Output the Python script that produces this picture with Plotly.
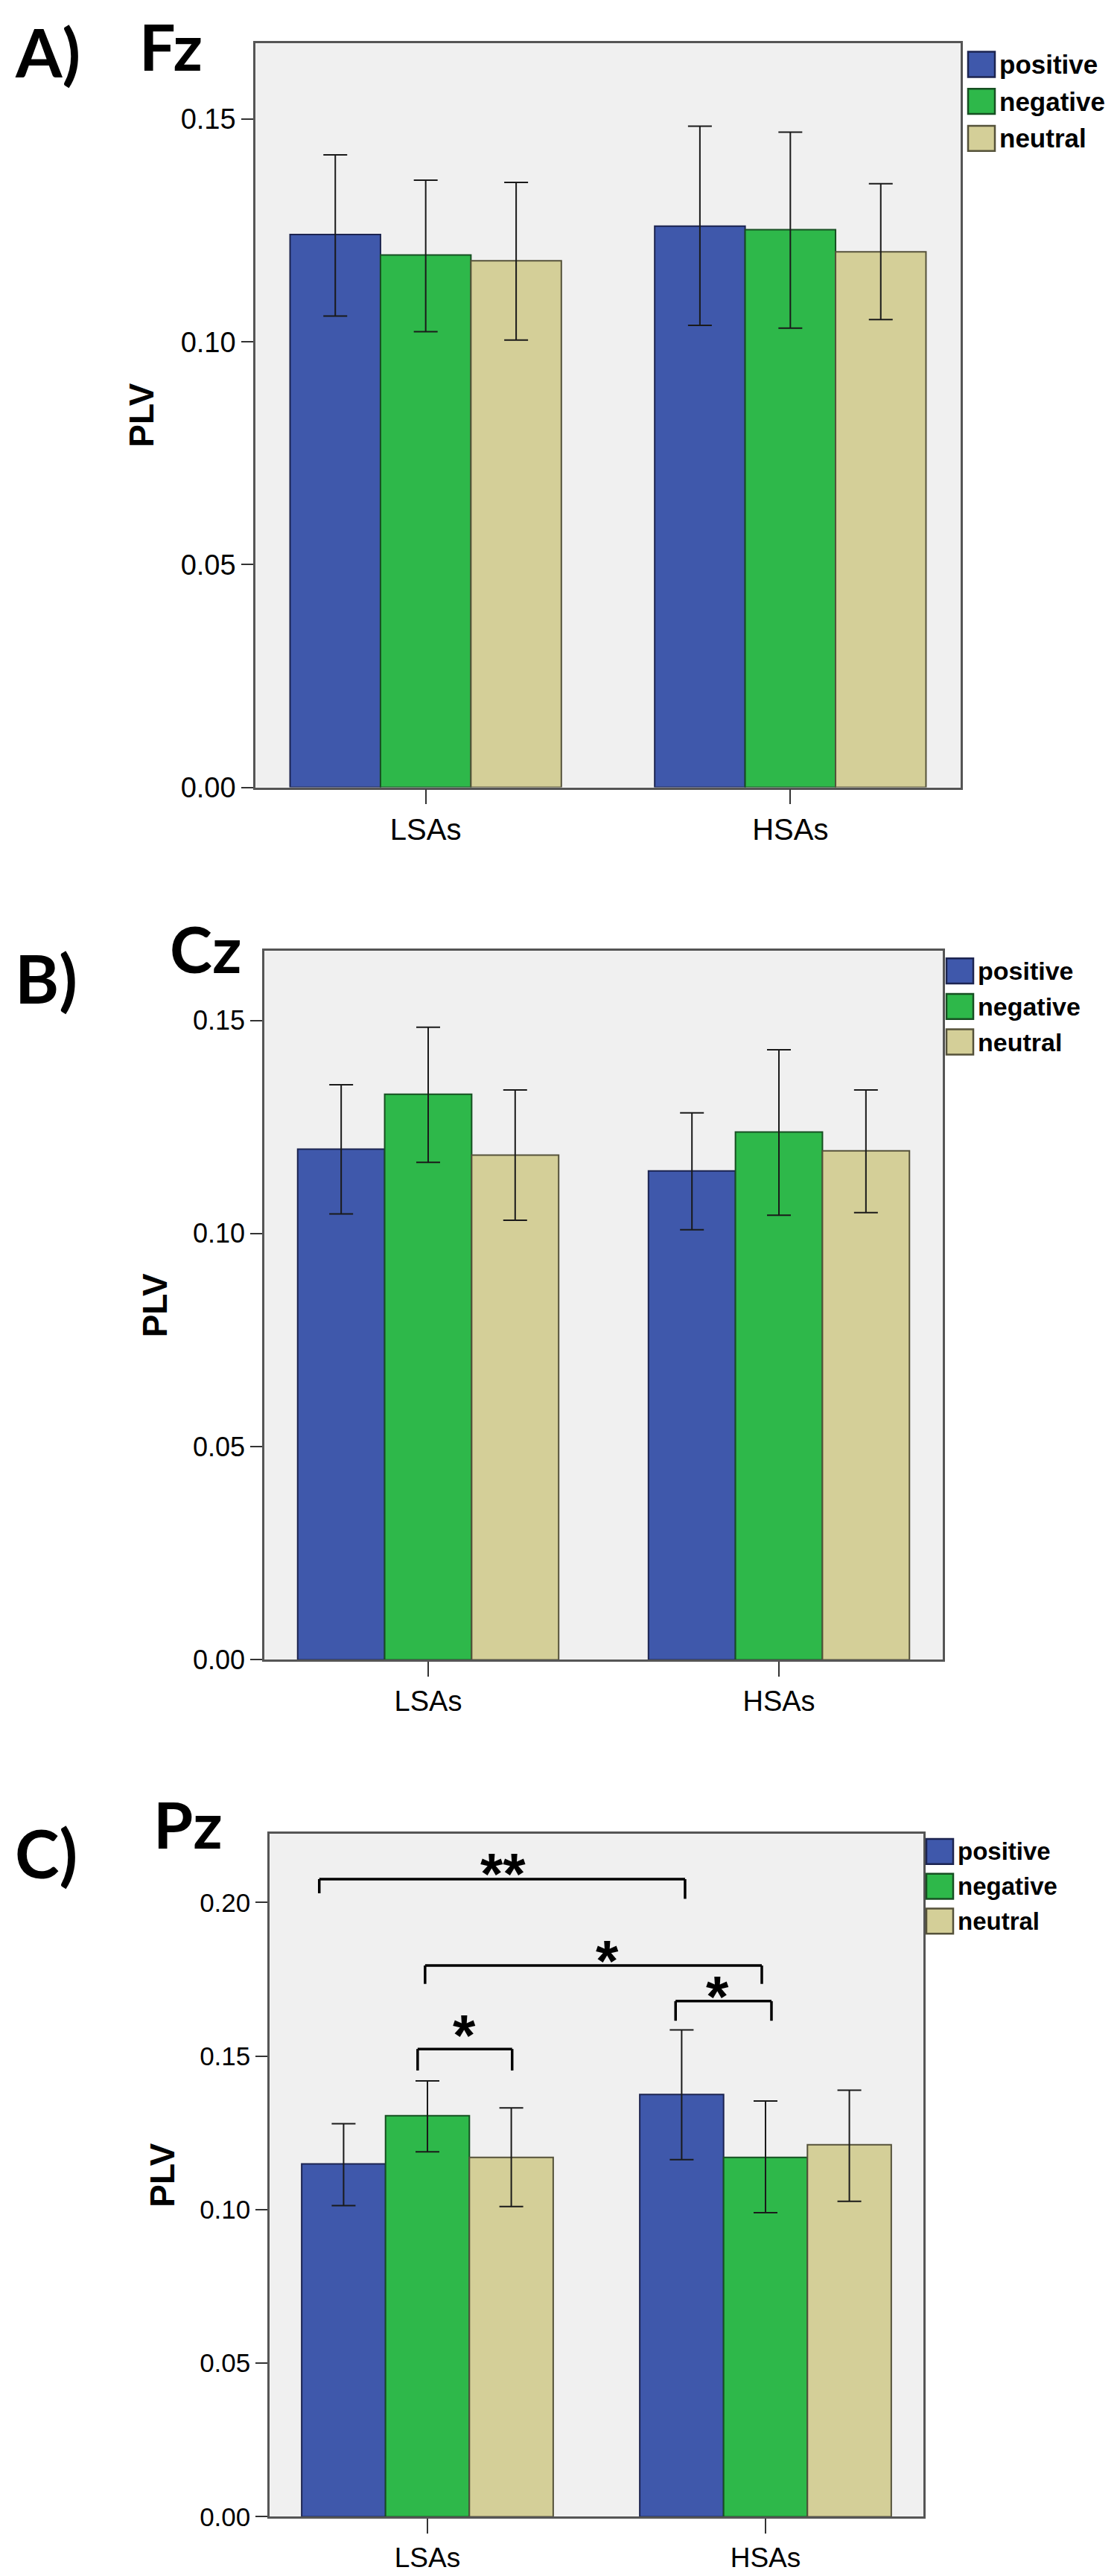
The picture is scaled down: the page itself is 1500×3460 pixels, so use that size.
import plotly.graph_objects as go

# ---- data (rows: positive, negative, neutral; cols: LSAs, HSAs)
groups = ["LSAs", "HSAs"]
conditions = ["positive", "negative", "neutral"]

fz_mean = [[0.1241, 0.1260], [0.1195, 0.1252], [0.1182, 0.1202]]
fz_upper = [[0.1420, 0.1484], [0.1363, 0.1471], [0.1358, 0.1355]]
fz_lower = [[0.1058, 0.1037], [0.1023, 0.1031], [0.1004, 0.1050]]

cz_mean = [[0.1198, 0.1147], [0.1327, 0.1238], [0.1184, 0.1194]]
cz_upper = [[0.1349, 0.1283], [0.1484, 0.1431], [0.1337, 0.1337]]
cz_lower = [[0.1046, 0.1009], [0.1167, 0.1043], [0.1031, 0.1049]]

pz_mean = [[0.1149, 0.1375], [0.1306, 0.1170], [0.1170, 0.1211]]
pz_upper = [[0.1280, 0.1585], [0.1419, 0.1354], [0.1331, 0.1389]]
pz_lower = [[0.1013, 0.1163], [0.1188, 0.0990], [0.1010, 0.1027]]

y_ticks = [0.00, 0.05, 0.10, 0.15, 0.20]

# significance brackets on Pz (category units on x, PLV on y)
sig_text = ["**", "*", "*", "*"]
sig_x0 = [-0.32, -0.007, -0.029, 0.734]
sig_x1 = [0.762, 0.989, 0.2505, 1.0176]
sig_top = [0.2076, 0.1795, 0.1523, 0.1679]
sig_left_end = [0.2030, 0.1735, 0.1453, 0.1615]
sig_right_end = [0.2012, 0.1735, 0.1453, 0.1615]
sig_label_x = [0.223, 0.532, 0.109, 0.859]
sig_label_y = [0.2122, 0.1838, 0.1596, 0.1723]

# ---- styling
W, H = 1500, 3460
fills = ["#3F58AB", "#2EB84A", "#D4CF98"]
edges = ["#1C2450", "#174F22", "#55523A"]
TICK_FONT = "Liberation Sans, Arial, sans-serif"
HEAD_FONT = "Lato, Calibri, sans-serif"

# pixel layout of each panel: plot box, y max, letter/electrode titles, legend
panels = [
    dict(mean=fz_mean, upper=fz_upper, lower=fz_lower, ymax=0.1671, nticks=4,
         box=(335, 1282, 50, 1056), letter="A)", letter_pos=(10, 61),
         site="Fz", site_pos=(177, 0), plv_x=182, leg=(1292, 62, 50),
         tick_size=38, leg_size=35),
    dict(mean=cz_mean, upper=cz_upper, lower=cz_lower, ymax=0.1663, nticks=4,
         box=(347, 1258, 1277, 2235), letter="B)", letter_pos=(10, 1313),
         site="Cz", site_pos=(218, 1273), plv_x=200, leg=(1263, 1287, 48),
         tick_size=36, leg_size=34),
    dict(mean=pz_mean, upper=pz_upper, lower=pz_lower, ymax=0.2224, nticks=5,
         box=(354, 1232, 2470, 3393), letter="C)", letter_pos=(10, 2495),
         site="Pz", site_pos=(196, 2456), plv_x=210, leg=(1236, 2477, 47),
         tick_size=35, leg_size=33),
]


def px(x):
    return x / W


def py(y):
    return 1 - y / H


fig = go.Figure()
shapes = []
annotations = []
layout = {}

for i, p in enumerate(panels):
    sfx = "" if i == 0 else str(i + 1)
    for c, cond in enumerate(conditions):
        m = p["mean"][c]
        up = [u - v for u, v in zip(p["upper"][c], m)]
        dn = [v - l for v, l in zip(m, p["lower"][c])]
        fig.add_trace(go.Bar(
            x=groups, y=m, name=cond, showlegend=False,
            xaxis="x" + sfx, yaxis="y" + sfx,
            marker=dict(color=fills[c], line=dict(color=edges[c], width=2)),
            error_y=dict(type="data", symmetric=False, array=up, arrayminus=dn,
                         color="#1a1a1a", thickness=2, width=16),
        ))

    left, right, top, bottom = p["box"]
    layout["xaxis" + sfx] = dict(
        domain=[px(left), px(right)], anchor="y" + sfx, type="category",
        range=[-0.467, 1.467], showline=True, linecolor="#555555", linewidth=2.5,
        mirror=True, ticks="outside", ticklen=20, tickwidth=2, tickcolor="#333333",
        tickfont=dict(family=TICK_FONT, size=p["tick_size"] + 2, color="black"),
        showgrid=False, zeroline=False, fixedrange=True,
    )
    layout["yaxis" + sfx] = dict(
        domain=[py(bottom), py(top)], anchor="x" + sfx, range=[0, p["ymax"]],
        tickvals=y_ticks[:p["nticks"]], tickformat=".2f", showline=True,
        linecolor="#555555", linewidth=2.5, mirror=True, ticks="outside",
        ticklen=16, tickwidth=2, tickcolor="#333333",
        tickfont=dict(family=TICK_FONT, size=p["tick_size"], color="black"),
        showgrid=False, zeroline=False, fixedrange=True,
    )

    # panel letter and electrode name
    annotations.append(dict(
        text=p["letter"], x=px(p["letter_pos"][0]), y=py(p["letter_pos"][1]),
        xref="paper", yref="paper", xanchor="left", yanchor="middle",
        showarrow=False, font=dict(family=HEAD_FONT, size=90, color="black", weight="bold"),
    ))
    # Fz sits against the top edge, so it hangs from the page top
    annotations.append(dict(
        text=p["site"], x=px(p["site_pos"][0]), y=py(p["site_pos"][1]),
        xref="paper", yref="paper", xanchor="left",
        yanchor="top" if i == 0 else "middle",
        showarrow=False, font=dict(family=HEAD_FONT, size=86, color="black", weight="bold"),
    ))
    # y title
    annotations.append(dict(
        text="PLV", x=px(p["plv_x"]), y=py((top + bottom) / 2), textangle=-90,
        xref="paper", yref="paper", xanchor="center", yanchor="middle",
        showarrow=False, font=dict(family=TICK_FONT, size=46, color="black", weight="bold"),
    ))

    # legend drawn by hand so the swatches match the SPSS size
    lx, ly, step = p["leg"]
    for c, cond in enumerate(conditions):
        y0 = ly + c * step
        shapes.append(dict(
            type="rect", xref="paper", yref="paper",
            x0=px(lx), x1=px(lx + 36), y0=py(y0 + 34), y1=py(y0),
            fillcolor=fills[c], line=dict(color=edges[c], width=2.5),
        ))
        annotations.append(dict(
            text=cond, x=px(lx + 40), y=py(y0 + 17), xref="paper", yref="paper",
            xanchor="left", yanchor="middle", showarrow=False,
            font=dict(family=TICK_FONT, size=p["leg_size"], color="black", weight="bold"),
        ))

# significance brackets on the Pz panel
for k in range(len(sig_text)):
    for seg in [(sig_x0[k], sig_x0[k], sig_left_end[k], sig_top[k]),
                (sig_x0[k], sig_x1[k], sig_top[k], sig_top[k]),
                (sig_x1[k], sig_x1[k], sig_top[k], sig_right_end[k])]:
        shapes.append(dict(
            type="line", xref="x3", yref="y3",
            x0=seg[0], x1=seg[1], y0=seg[2], y1=seg[3],
            line=dict(color="black", width=3.5),
        ))
    annotations.append(dict(
        text=sig_text[k], x=sig_label_x[k], y=sig_label_y[k], xref="x3", yref="y3",
        xanchor="center", yanchor="middle", yshift=-12, showarrow=False,
        font=dict(family=TICK_FONT, size=78, color="black", weight="bold"),
    ))

fig.update_layout(
    width=W, height=H, margin=dict(l=0, r=0, t=0, b=0),
    paper_bgcolor="white", plot_bgcolor="#F0F0F0",
    barmode="group", bargap=0.256, bargroupgap=0,
    showlegend=False, shapes=shapes, annotations=annotations,
    **layout,
)

fig.write_html("out.html")
